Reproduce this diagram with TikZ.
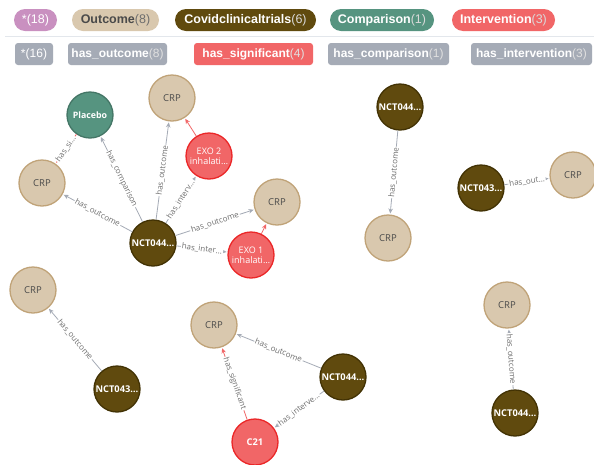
\documentclass[tikz,border=0pt]{standalone}
\usepackage{fontspec}
\setmainfont{Liberation Sans}
\newfontfamily\nodefont{Open Sans}
\usetikzlibrary{arrows.meta}
\definecolor{outfill}{HTML}{D9C8AE}
\definecolor{outdraw}{HTML}{C0A378}
\definecolor{trialfill}{HTML}{604A0E}
\definecolor{trialdraw}{HTML}{423204}
\definecolor{compfill}{HTML}{569480}
\definecolor{compdraw}{HTML}{447666}
\definecolor{intfill}{HTML}{F16667}
\definecolor{intdraw}{HTML}{EB2728}
\definecolor{allfill}{HTML}{C990C0}
\definecolor{relgray}{HTML}{A5ABB6}
\definecolor{labgray}{HTML}{6E6E6E}
\definecolor{sepline}{HTML}{E3E7EC}
\definecolor{darktext}{HTML}{4A4A4A}
\tikzset{
  pill/.style={rounded corners=11pt, minimum height=22pt, inner sep=0pt, text=white,
    font=\fontsize{12.5}{14}\selectfont},
  relpill/.style={rounded corners=3pt, minimum height=22pt, inner sep=0pt, text=white,
    fill=relgray, font=\fontsize{12}{14}\selectfont},
  gnode/.style={circle, minimum size=46pt, inner sep=0pt, line width=1.3pt,
    font=\nodefont\fontsize{9.5}{10}\selectfont, align=center},
  outcome/.style={gnode, fill=outfill, draw=outdraw, text=darktext},
  trial/.style={gnode, fill=trialfill, draw=trialdraw, text=white,
    font=\nodefont\bfseries\fontsize{9.3}{10}\selectfont},
  comparison/.style={gnode, fill=compfill, draw=compdraw, text=white,
    font=\nodefont\bfseries\fontsize{8.8}{10}\selectfont},
  intervention/.style={gnode, fill=intfill, draw=intdraw, text=white,
    font=\nodefont\fontsize{9}{10}\selectfont},
  rel/.style={draw=relgray, line width=0.8pt, -{Stealth[length=5pt,width=4.5pt]}, shorten >=1pt},
  sig/.style={rel, draw=intfill},
  elab/.style={sloped, fill=white, inner sep=1pt, text=labgray,
    font=\nodefont\fontsize{8}{8.5}\selectfont}
}
\begin{document}
\begin{tikzpicture}[x=1pt,y=-1pt]
\useasboundingbox[fill=white] (0,0) rectangle (594,464);

% legend row 1
\node[pill, fill=allfill, minimum width=43pt] (lg1) at (35.5,20) {*(18)};
\node[pill, fill=outfill, minimum width=87pt, text=darktext] (lg2) at (115.5,20)
  {\textbf{Outcome}\textcolor{labgray}{(8)}};
\node[pill, fill=trialfill, minimum width=141pt] (lg3) at (245.5,20)
  {\textbf{Covidclinicaltrials}\textcolor{white!85!black}{(6)}};
\node[pill, fill=compfill, minimum width=104pt] (lg4) at (382,20)
  {\textbf{Comparison}\textcolor{white!85!black}{(1)}};
\node[pill, fill=intfill, minimum width=103pt] (lg5) at (503.5,20)
  {\textbf{Intervention}\textcolor{white!85!black}{(3)}};

\draw[sepline, line width=1pt] (5,36) -- (594,36);

% legend row 2
\node[relpill, minimum width=38pt] (lr1) at (34,54) {*(16)};
\node[relpill, minimum width=99pt] (lr2) at (117.5,54)
  {\textbf{has\_outcome}\textcolor{white!88!black}{(8)}};
\node[relpill, fill=intfill, minimum width=119pt] (lr3) at (253.5,54)
  {\textbf{has\_significant}\textcolor{white!88!black}{(4)}};
\node[relpill, minimum width=121pt] (lr4) at (388.5,54)
  {\textbf{has\_comparison}\textcolor{white!88!black}{(1)}};
\node[relpill, minimum width=121pt] (lr5) at (531.5,54)
  {\textbf{has\_intervention}\textcolor{white!88!black}{(3)}};

% graph nodes
\node[trial] (n1) at (153,243) {NCT044…};
\node[outcome] (o1) at (42,183) {CRP};
\node[comparison] (c1) at (90,115) {Placebo};
\node[outcome] (o2) at (172,98) {CRP};
\node[intervention] (i2) at (209,156) {EXO 2\\inhalati…};
\node[outcome] (o3) at (277,202) {CRP};
\node[intervention] (i1) at (251,255) {EXO 1\\inhalati…};

\node[trial] (n2) at (400,107) {NCT044…};
\node[outcome] (o4) at (388,238) {CRP};
\node[trial] (n3) at (481,188) {NCT043…};
\node[outcome] (o5) at (573,175) {CRP};

\node[outcome] (o6) at (33,290) {CRP};
\node[trial] (n4) at (117,389) {NCT043…};

\node[outcome] (o7) at (214,325) {CRP};
\node[intervention, font=\nodefont\bfseries\fontsize{9.3}{10}\selectfont] (i3) at (255,442) {C21};
\node[trial] (n5) at (343,377) {NCT044…};

\node[outcome] (o8) at (507,305) {CRP};
\node[trial] (n6) at (515,413) {NCT044…};

% edges
\draw[rel] (n1) -- node[elab] {has\_outcome} (o1);
\draw[rel] (n1) -- node[elab] {has\_comparison} (c1);
\draw[rel] (n1) -- node[elab] {has\_outcome} (o2);
\draw[rel] (n1) -- node[elab] {has\_interv…} (i2);
\draw[rel] (n1) -- node[elab] {has\_outcome} (o3);
\draw[rel] (n1) -- node[elab] {has\_inter…} (i1);
\draw[sig] (c1) -- node[elab] {has\_si…} (o1);
\draw[sig] (i2) -- (o2);
\draw[sig] (i1) -- (o3);

\draw[rel] (n2) -- node[elab] {has\_outcome} (o4);
\draw[rel] (n3) -- node[elab] {has\_out…} (o5);
\draw[rel] (n4) -- node[elab] {has\_outcome} (o6);
\draw[rel] (n5) -- node[elab] {has\_outcome} (o7);
\draw[rel] (n5) -- node[elab] {has\_interve…} (i3);
\draw[sig] (i3) -- node[elab] {has\_significant} (o7);
\draw[rel] (n6) -- node[elab] {has\_outcome} (o8);
\end{tikzpicture}
\end{document}
